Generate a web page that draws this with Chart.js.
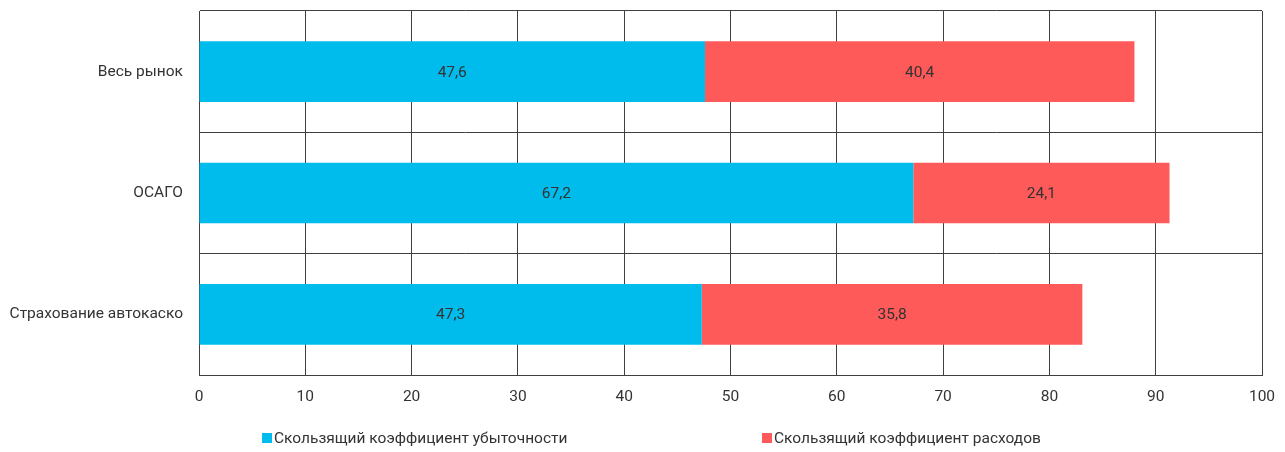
<!DOCTYPE html>
<html>
<head>
<meta charset="utf-8">
<script src="https://cdn.jsdelivr.net/npm/chart.js@4/dist/chart.umd.min.js"></script>
<style>
  html, body { margin: 0; padding: 0; background: #fff; }
  #wrap { width: 1285px; height: 452px; }
</style>
</head>
<body>
<div id="wrap"><canvas id="grafico"></canvas></div>
<script>
const categorias = ['Весь рынок', 'ОСАГО', 'Страхование автокаско'];
const убыточность = [47.6, 67.2, 47.3];
const расходы = [40.4, 24.1, 35.8];
const nombresSeries = ['Скользящий коэффициент убыточности', 'Скользящий коэффициент расходов'];
const ticksX = [0, 10, 20, 30, 40, 50, 60, 70, 80, 90, 100];

const fuente = 'Roboto, "Noto Sans", sans-serif';
const colorTexto = '#333333';
const tamFuente = 15.5;

// etiquetas de valor en el centro de cada segmento
const etiquetas = {
    id: 'etiquetas',
    afterDatasetsDraw(chart) {
        const ctx = chart.ctx;
        ctx.save();
        ctx.font = tamFuente + 'px ' + fuente;
        ctx.fillStyle = colorTexto;
        ctx.textAlign = 'center';
        ctx.textBaseline = 'middle';
        chart.data.datasets.forEach((ds, i) => {
            chart.getDatasetMeta(i).data.forEach((bar, j) => {
                const p = bar.getCenterPoint();
                ctx.fillText(ds.data[j].toFixed(1).replace('.', ','), p.x, p.y + 1);
            });
        });
        ctx.restore();
    }
};

// leyenda dibujada a mano para poder separar los elementos
const leyenda = {
    id: 'leyenda',
    afterDraw(chart) {
        const ctx = chart.ctx;
        const inicios = [262, 762];
        const y = 438;
        ctx.save();
        ctx.font = tamFuente + 'px ' + fuente;
        ctx.textBaseline = 'middle';
        chart.data.datasets.forEach((ds, i) => {
            ctx.fillStyle = ds.backgroundColor;
            ctx.fillRect(inicios[i], y - 5, 10, 10);
            ctx.fillStyle = colorTexto;
            ctx.fillText(ds.label, inicios[i] + 12, y + 1);
        });
        ctx.restore();
    }
};

new Chart(document.getElementById('grafico'), {
    type: 'bar',
    data: {
        labels: categorias,
        datasets: [{
            label: nombresSeries[0],
            data: убыточность,
            backgroundColor: '#00BCEC',
            barPercentage: 1,
            categoryPercentage: 0.5
        }, {
            label: nombresSeries[1],
            data: расходы,
            backgroundColor: '#FF5A5A',
            barPercentage: 1,
            categoryPercentage: 0.5
        }]
    },
    options: {
        indexAxis: 'y',
        responsive: true,
        maintainAspectRatio: false,
        animation: false,
        layout: { padding: { top: 11, right: 23, left: 0, bottom: 0 } },
        plugins: {
            legend: { display: false },
            tooltip: { enabled: false }
        },
        scales: {
            x: {
                stacked: true,
                min: 0,
                max: 100,
                afterBuildTicks: (s) => { s.ticks = ticksX.map(v => ({ value: v })); },
                afterFit: (s) => { s.height = 77; s.paddingLeft = 0; s.paddingRight = 0; },
                grid: { color: '#3f3f3f', drawTicks: false, lineWidth: 1 },
                border: { color: '#3f3f3f' },
                ticks: {
                    padding: 13,
                    color: colorTexto,
                    font: { family: fuente, size: tamFuente }
                }
            },
            y: {
                stacked: true,
                afterFit: (s) => { s.width = 199; s.paddingTop = 0; s.paddingBottom = 0; },
                grid: { color: '#3f3f3f', drawTicks: false, offset: true },
                border: { color: '#3f3f3f' },
                ticks: {
                    padding: 16,
                    color: colorTexto,
                    font: { family: fuente, size: tamFuente }
                }
            }
        }
    },
    plugins: [etiquetas, leyenda]
});
</script>
</body>
</html>
